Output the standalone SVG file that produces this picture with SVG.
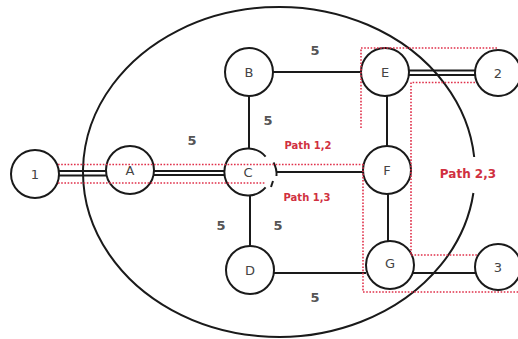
<svg xmlns="http://www.w3.org/2000/svg" width="518" height="339" viewBox="0 0 518 339">
<style>
.n{fill:#fff;stroke:#1a1a1a;stroke-width:2}
.e{stroke:#1a1a1a;stroke-width:2;fill:none}
.r{stroke:#e0304a;stroke-width:1.6;stroke-dasharray:1.6,1.6;fill:none}
.t{font-family:"DejaVu Sans",sans-serif;font-size:13px;fill:#444;text-anchor:middle;dominant-baseline:central}
.w{font-family:"DejaVu Sans",sans-serif;font-size:13px;font-weight:bold;fill:#555;text-anchor:middle;dominant-baseline:central}
.p{font-family:"DejaVu Sans",sans-serif;font-size:10px;font-weight:bold;fill:#d03040;text-anchor:middle;dominant-baseline:central}
</style>
<rect width="518" height="339" fill="#fff"/>
<path class="e" d="M474.2,157 A196 165 0 1 0 473.4,193"/>
<g id="connectors">
<line class="e" x1="58" y1="171" x2="106" y2="171"/>
<line class="e" x1="58" y1="175.5" x2="106" y2="175.5"/>
<line class="e" x1="154" y1="171" x2="225" y2="171"/>
<line class="e" x1="154" y1="175" x2="225" y2="175"/>
<line class="e" x1="276" y1="172" x2="363" y2="172"/>
<line class="e" x1="273" y1="72" x2="361" y2="72"/>
<line class="e" x1="249" y1="96" x2="249" y2="149"/>
<line class="e" x1="250" y1="195" x2="250" y2="246"/>
<line class="e" x1="274" y1="273" x2="366" y2="273"/>
<line class="e" x1="387" y1="96" x2="387" y2="146"/>
<line class="e" x1="388" y1="194" x2="388" y2="241"/>
<line class="e" x1="409" y1="70.5" x2="475" y2="70.5"/>
<line class="e" x1="409" y1="75" x2="475" y2="75"/>
<line class="e" x1="413" y1="273" x2="475" y2="273"/>
</g>
<g id="n1"><circle class="n" cx="35" cy="174" r="24"/><text class="t" x="35" y="174">1</text></g>
<g id="nA"><circle class="n" cx="130" cy="170" r="24"/><text class="t" x="130" y="170">A</text></g>
<g id="nB"><circle class="n" cx="249" cy="72" r="24"/><text class="t" x="249" y="72">B</text></g>
<g id="nC"><path class="n" d="M265.6,156.6 A23.5 23.5 0 1 0 265.6,187.4"/><path class="e" d="M273.5,162.5 A24 24 0 0 1 276.5,176"/><path class="e" d="M271,187 L273,181"/><text class="t" x="248" y="172">C</text></g>
<g id="nD"><circle class="n" cx="250" cy="270" r="24"/><text class="t" x="250" y="270">D</text></g>
<g id="nE"><circle class="n" cx="385" cy="72" r="24"/><text class="t" x="385" y="72">E</text></g>
<g id="nF"><circle class="n" cx="387" cy="170" r="24"/><text class="t" x="387" y="170">F</text></g>
<g id="nG"><circle class="n" cx="390" cy="265" r="24"/><text class="t" x="390" y="263">G</text></g>
<g id="n2"><circle class="n" cx="498" cy="73" r="23"/><text class="t" x="498" y="73">2</text></g>
<g id="n3"><circle class="n" cx="498" cy="267" r="23"/><text class="t" x="498" y="267">3</text></g>
<g id="paths">
<line class="r" x1="58" y1="164.5" x2="363" y2="164.5"/>
<line class="r" x1="58" y1="183" x2="265" y2="183"/>
<polyline class="r" points="361,128 361,48 497,48"/>
<polyline class="r" points="475,82.5 411,82.5 411,255 477,255"/>
<polyline class="r" points="363,164 363,292 518,292"/>
</g>
<g id="labels">
<text class="w" x="315" y="50">5</text>
<text class="w" x="268" y="120">5</text>
<text class="w" x="192" y="140">5</text>
<text class="w" x="221" y="225">5</text>
<text class="w" x="278" y="225">5</text>
<text class="w" x="315" y="297">5</text>
<text class="p" x="308" y="145">Path 1,2</text>
<text class="p" x="307" y="197">Path 1,3</text>
<text class="p" x="468" y="174" style="font-size:12px">Path 2,3</text>
</g>
</svg>
